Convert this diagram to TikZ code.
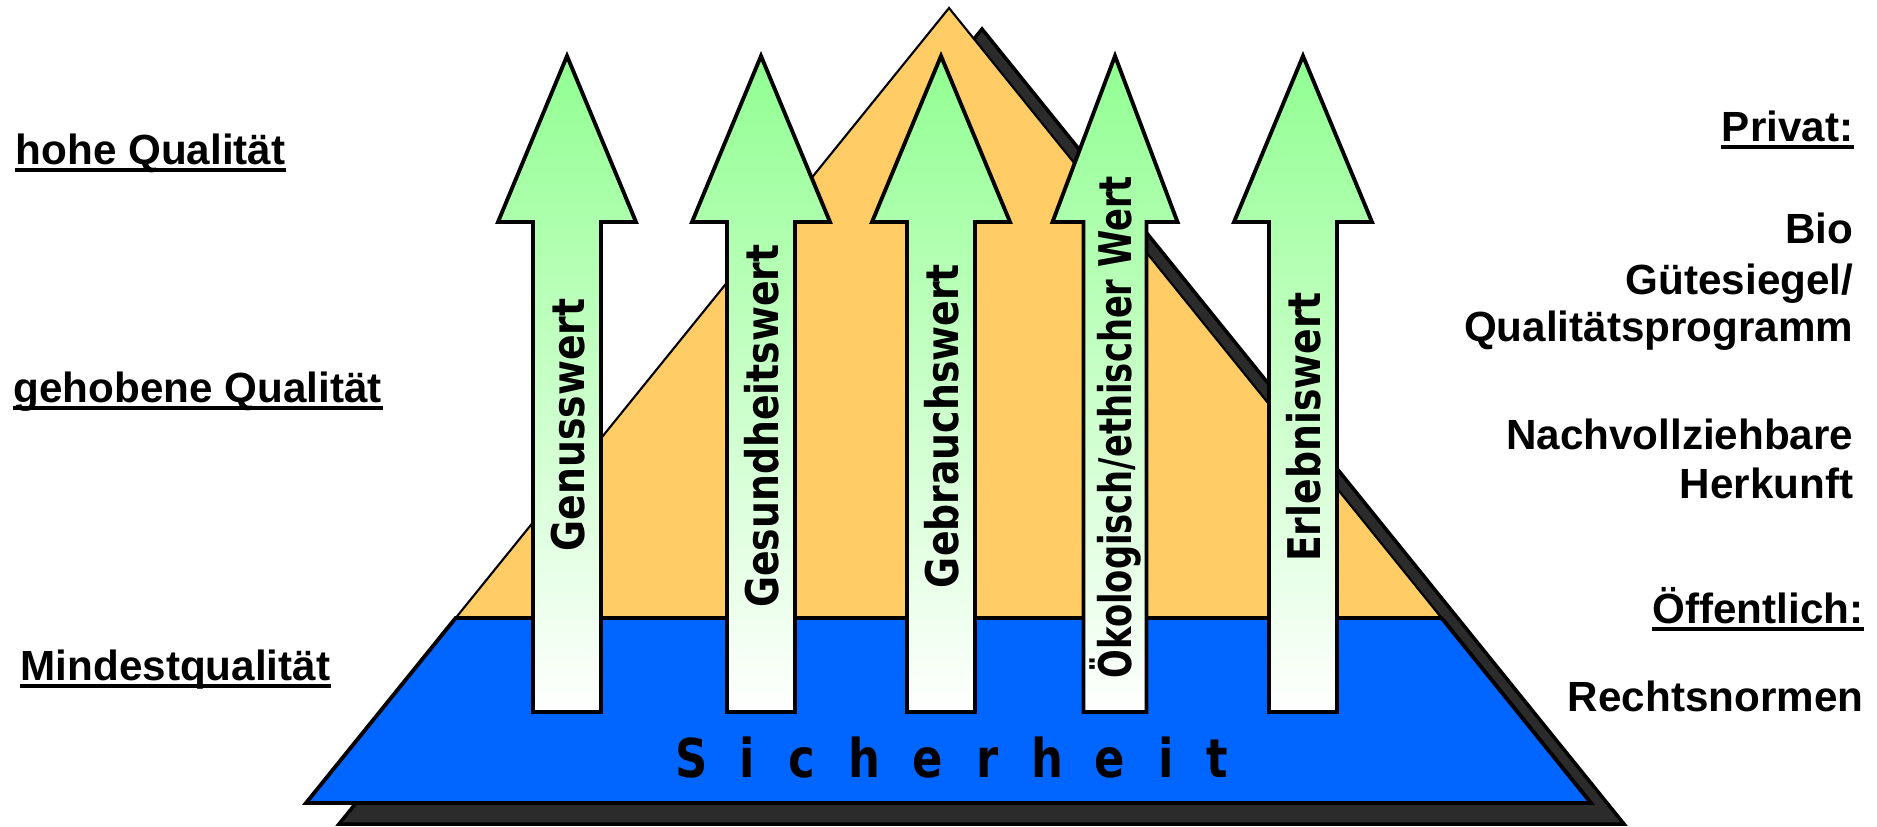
\documentclass[tikz,border=0pt]{standalone}
\usepackage{fontspec}
\setmainfont{Liberation Sans}
\newfontfamily\valfont{DejaVu Sans}[FakeStretch=0.84]
\newfontfamily\valfontnarrow{DejaVu Sans}[FakeStretch=0.75]
\usetikzlibrary{positioning,calc}
\definecolor{pyrorange}{HTML}{FFCC66}
\definecolor{pyrblue}{HTML}{0066FF}
\definecolor{pyrshadow}{HTML}{2B2B2B}
\definecolor{arrowgreen}{RGB}{145,255,145}
\tikzset{
  shadowpyr/.style={draw=black,fill=pyrshadow,line width=1pt,line join=miter},
  toppyr/.style={draw=black,fill=pyrorange,line width=0.6pt,line join=miter},
  basepyr/.style={draw=black,fill=pyrblue,line width=1.1pt,line join=miter},
  valarrow/.style={draw=black,line width=1.1pt,line join=miter,
                   top color=arrowgreen,bottom color=white},
  valtext/.style={font=\valfont\bfseries\fontsize{12.8}{14}\selectfont,
                  rotate=90,inner sep=0pt},
  levellabel/.style={font=\bfseries\fontsize{12}{14}\selectfont,
                     anchor=base west,inner sep=0pt},
  sidelabel/.style={font=\bfseries\fontsize{12}{14}\selectfont,
                    anchor=base east,inner sep=0pt},
  ulline/.style={line width=1.1pt},
  safetext/.style={font=\valfont\bfseries\fontsize{15.2}{16}\selectfont,
                   anchor=base,inner sep=0pt}
}
% centre x, half shaft, half head
\newcommand{\valuearrow}[3]{%
  \draw[valarrow] (#1-#2,712) -- (#1-#2,222) -- (#1-#3,222) -- (#1,56)
    -- (#1+#3,222) -- (#1+#2,222) -- (#1+#2,712) -- cycle;}
\newcommand{\ulnode}[1]{%
  \draw[ulline] ([yshift=-1.8pt]#1.base west) -- ([yshift=-1.8pt]#1.base east);}

\begin{document}
\begin{tikzpicture}[x=0.01cm,y=-0.01cm]
    \useasboundingbox (0,0) rectangle (1877,826);
    \coordinate (apex) at (949,8);
    \coordinate (bl) at (306,803);
    \coordinate (br) at (1591,803);
    \coordinate (ml) at ($(apex)!0.7673!(bl)$);
    \coordinate (mr) at ($(apex)!0.7673!(br)$);

    \draw[shadowpyr] ([shift={(33,21)}]apex) -- ([shift={(33,21)}]br)
      -- ([shift={(33,21)}]bl) -- cycle;
    \draw[toppyr] (apex) -- (br) -- (bl) -- cycle;
    \draw[basepyr] (ml) -- (mr) -- (br) -- (bl) -- cycle;

    \valuearrow{567}{34}{69}
    \valuearrow{761}{34}{69}
    \valuearrow{941}{34}{69}
    \valuearrow{1115}{31.5}{62.5}
    \valuearrow{1303}{34}{69}

    \node[valtext] (genuss) at (568,425) {Genusswert};
    \node[valtext] (gesund) at (762,426) {Gesundheitswert};
    \node[valtext] (gebrauch) at (942,426) {Gebrauchswert};
    \node[valtext,font=\valfontnarrow\bfseries\fontsize{12.8}{14}\selectfont]
      (oeko) at (1115,427) {Ökologisch/ethischer Wert};
    \node[valtext] (erlebnis) at (1304,427) {Erlebniswert};

    \foreach \xpos/\ch [count=\k] in {692/S,747/i,802/c,864/h,928/e,
                                      988/r,1047/h,1110/e,1166/i,1217/t}
      \node[safetext] (sich\k) at (\xpos,777) {\ch};

    \node[levellabel] (hohe) at (15,164) {hohe Qualität};
    \node[levellabel] (gehoben) at (13,402) {gehobene Qualität};
    \node[levellabel] (mindest) at (20,680) {Mindestqualität};
    \ulnode{hohe}
    \ulnode{gehoben}
    \ulnode{mindest}

    \node[sidelabel] (privat) at (1854,141) {Privat:};
    \node[sidelabel] (bio) at (1854,243) {Bio};
    \node[sidelabel] (siegel) at (1854,294) {Gütesiegel/};
    \node[sidelabel] (qprog) at (1854,341) {Qualitätsprogramm};
    \node[sidelabel] (nachv) at (1854,449) {Nachvollziehbare};
    \node[sidelabel] (herkunft) at (1854,498) {Herkunft};
    \node[sidelabel] (oeff) at (1864,623) {Öffentlich:};
    \node[sidelabel] (recht) at (1864,711) {Rechtsnormen};
    \ulnode{privat}
    \ulnode{oeff}
\end{tikzpicture}
\end{document}
